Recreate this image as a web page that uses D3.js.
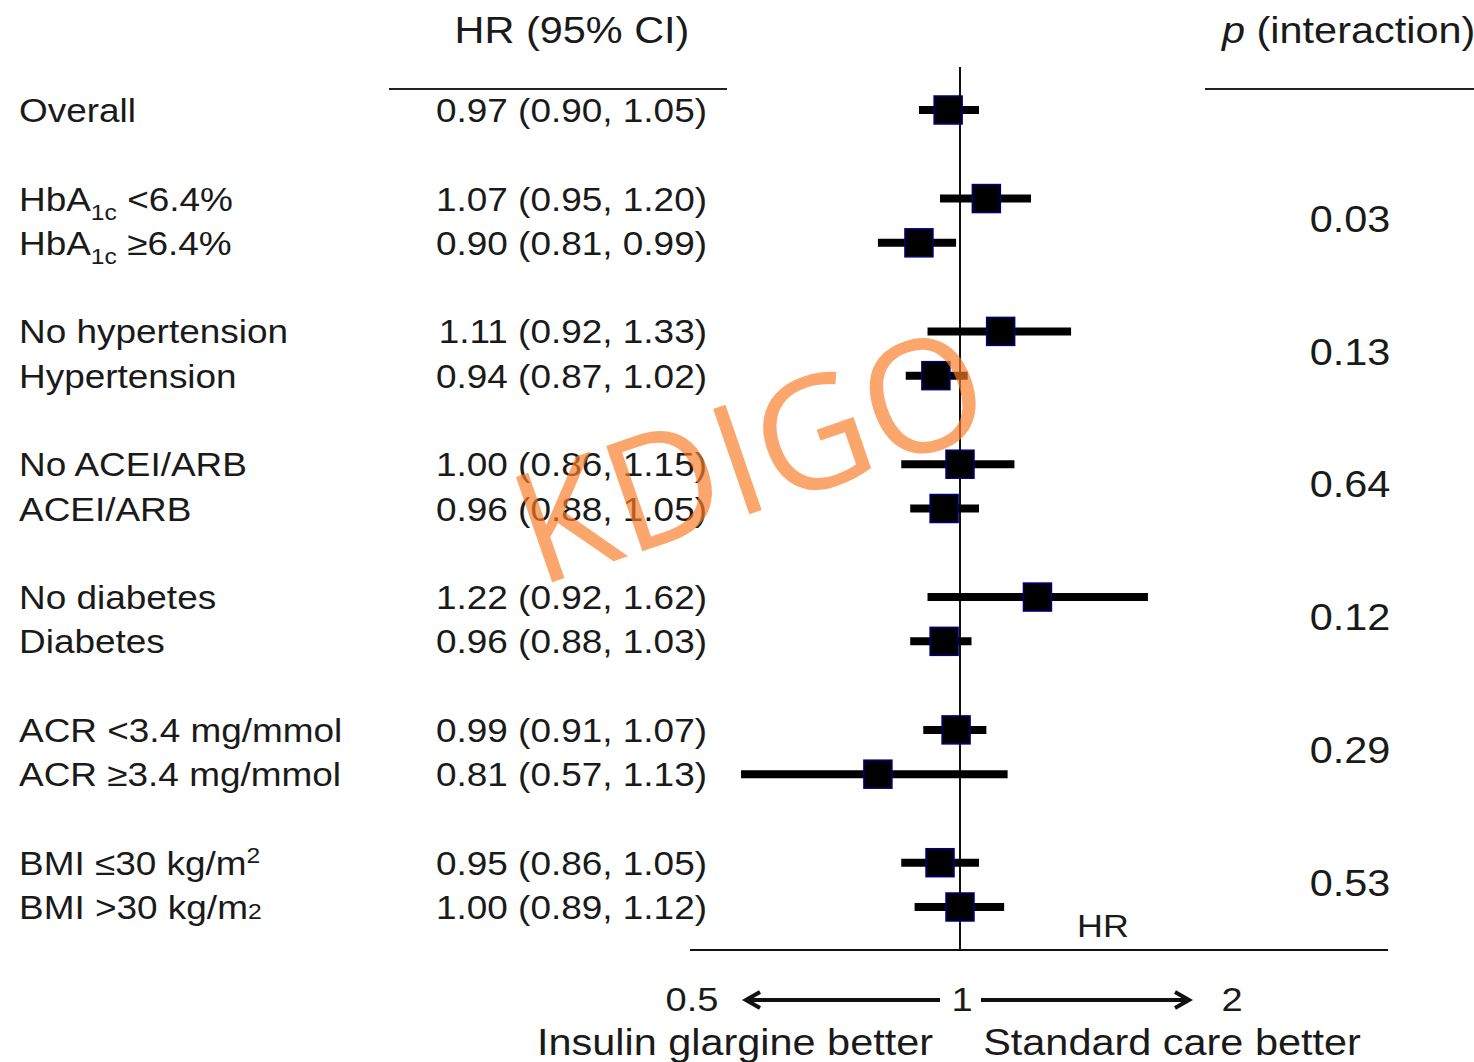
<!DOCTYPE html>
<meta charset="utf-8">
<style>
  body { margin: 0; background: #fff; }
  text { font-family: "Liberation Sans", Arial, sans-serif; fill: #1a1a1a; }
</style>
<script src="https://d3js.org/d3.v7.min.js"></script>
<body>
<script>

// DATA

// _{} subscript, ^{} superscript, ~{} small on baseline
var subgroups = ["Overall", "HbA_{1c} <6.4%", "HbA_{1c} ≥6.4%", "No hypertension", "Hypertension",
  "No ACEI/ARB", "ACEI/ARB", "No diabetes", "Diabetes", "ACR <3.4 mg/mmol", "ACR ≥3.4 mg/mmol",
  "BMI ≤30 kg/m^{2}", "BMI >30 kg/m~{2}"];
var groupOf = [0, 1, 1, 2, 2, 3, 3, 4, 4, 5, 5, 6, 6];
var hr = [0.97, 1.07, 0.90, 1.11, 0.94, 1.00, 0.96, 1.22, 0.96, 0.99, 0.81, 0.95, 1.00];
var lower = [0.90, 0.95, 0.81, 0.92, 0.87, 0.86, 0.88, 0.92, 0.88, 0.91, 0.57, 0.86, 0.89];
var upper = [1.05, 1.20, 0.99, 1.33, 1.02, 1.15, 1.05, 1.62, 1.03, 1.07, 1.13, 1.05, 1.12];
var pInteraction = ["0.03", "0.13", "0.64", "0.12", "0.29", "0.53"];
var tickValues = [0.5, 1, 2];

var width = 1474;
var height = 1062;
var stretch = 1.12;   // the source text is a little wide

var rows = subgroups.map(function(d, i) {
  return { label: d, hr: hr[i], lo: lower[i], hi: upper[i], group: groupOf[i], slot: i + groupOf[i] };
});


// SVG SETUP

var svg = d3.select("body")
  .append("svg")
  .attr("width", width)
  .attr("height", height);

svg.append("rect").attr("width", width).attr("height", height).attr("fill", "#fff");


// SCALES

var xScale = d3.scaleLog()
  .domain([0.5, 2])
  .range([690, 1230]);

var yScale = d3.scaleLinear()
  .domain([0, 18])
  .range([110, 907]);

var axisY = 950;


// TEXT HELPERS

function addText(x, y, size, anchor) {
  return svg.append("text")
    .attr("transform", "translate(" + x + "," + y + ") scale(" + stretch + ",1)")
    .attr("text-anchor", anchor || "start")
    .style("font-size", size + "px");
}

function richText(sel, str, size) {
  var parts = str.split(/([_^~]\{[^}]*\})/);
  var shift = 0;
  parts.forEach(function(p) {
    if (!p) return;
    var m = p.match(/^([_^~])\{(.*)\}$/);
    if (m) {
      var dy = m[1] === "_" ? 9 : (m[1] === "^" ? -12 : 0);
      sel.append("tspan").attr("dy", dy - shift).style("font-size", Math.round(size * 0.66) + "px").text(m[2]);
      shift = dy;
    } else {
      sel.append("tspan").attr("dy", -shift).text(p);
      shift = 0;
    }
  });
}


// HEADERS

addText(572, 43, 37, "middle").text("HR (95% CI)");
var pHead = addText(1222, 43, 37, "start");
pHead.append("tspan").style("font-style", "italic").text("p");
pHead.append("tspan").text(" (interaction)");

svg.append("line").attr("x1", 389).attr("x2", 727).attr("y1", 89).attr("y2", 89)
  .attr("stroke", "#222").attr("stroke-width", 2);
svg.append("line").attr("x1", 1205).attr("x2", width).attr("y1", 89).attr("y2", 89)
  .attr("stroke", "#222").attr("stroke-width", 2);


// ROW LABELS

rows.forEach(function(d) {
  var y = yScale(d.slot) + 12;
  richText(addText(19, y, 33, "start"), d.label, 33);
  addText(707, y, 33, "end").text(d3.format(".2f")(d.hr) + " (" + d3.format(".2f")(d.lo) + ", " + d3.format(".2f")(d.hi) + ")");
});

pInteraction.forEach(function(p, g) {
  var pair = rows.filter(function(d) { return d.group === g + 1; });
  var y = d3.mean(pair, function(d) { return yScale(d.slot); });
  addText(1350, y + 11, 37, "middle").text(p);
});


// REFERENCE LINE AND AXIS

svg.append("line")
  .attr("x1", xScale(1)).attr("x2", xScale(1))
  .attr("y1", 67).attr("y2", axisY)
  .attr("stroke", "#111").attr("stroke-width", 2);

svg.append("line")
  .attr("x1", xScale(0.5)).attr("x2", xScale(3))
  .attr("y1", axisY).attr("y2", axisY)
  .attr("stroke", "#111").attr("stroke-width", 2);

tickValues.forEach(function(t) {
  addText(xScale(t) + 2, 1011, 34, "middle").text(t);
});

addText(1103, 937, 32, "middle").text("HR");

// arrows
var arrowY = 1000;
var arrows = [
  { from: xScale(1) - 20, to: xScale(0.5) + 56 },
  { from: xScale(1) + 21, to: xScale(2) - 41 }
];
arrows.forEach(function(a) {
  var dir = a.to > a.from ? 1 : -1;
  svg.append("line")
    .attr("x1", a.from).attr("x2", a.to - dir * 2)
    .attr("y1", arrowY).attr("y2", arrowY)
    .attr("stroke", "#111").attr("stroke-width", 4);
  svg.append("path")
    .attr("d", "M" + (a.to - dir * 14) + "," + (arrowY - 8) + "L" + a.to + "," + arrowY + "L" + (a.to - dir * 14) + "," + (arrowY + 8))
    .attr("fill", "none").attr("stroke", "#111").attr("stroke-width", 4);
});

addText(735, 1055, 37, "middle").text("Insulin glargine better");
addText(1172, 1055, 37, "middle").text("Standard care better");


// MARKS

var marks = svg.append("g");

marks.selectAll("line.ci")
  .data(rows)
  .enter()
  .append("line")
    .attr("class", "ci")
    .attr("x1", function(d) { return xScale(d.lo); })
    .attr("x2", function(d) { return xScale(d.hi); })
    .attr("y1", function(d) { return yScale(d.slot); })
    .attr("y2", function(d) { return yScale(d.slot); })
    .attr("stroke", "#000")
    .attr("stroke-width", 8);

var box = 28;
marks.selectAll("rect.pt")
  .data(rows)
  .enter()
  .append("rect")
    .attr("class", "pt")
    .attr("x", function(d) { return xScale(d.hr) - box / 2; })
    .attr("y", function(d) { return yScale(d.slot) - box / 2; })
    .attr("width", box)
    .attr("height", box)
    .attr("fill", "#000")
    .attr("stroke", "#000080")
    .attr("stroke-width", 1.5);


// WATERMARK

svg.append("text")
  .attr("transform", "translate(768,508) rotate(-19)")
  .attr("text-anchor", "middle")
  .style("font-family", "'Open Sans', sans-serif")
  .style("font-size", "156px")
  .style("fill", "rgb(250,125,40)")
  .style("opacity", 0.68)
  .text("KDIGO");

</script>
